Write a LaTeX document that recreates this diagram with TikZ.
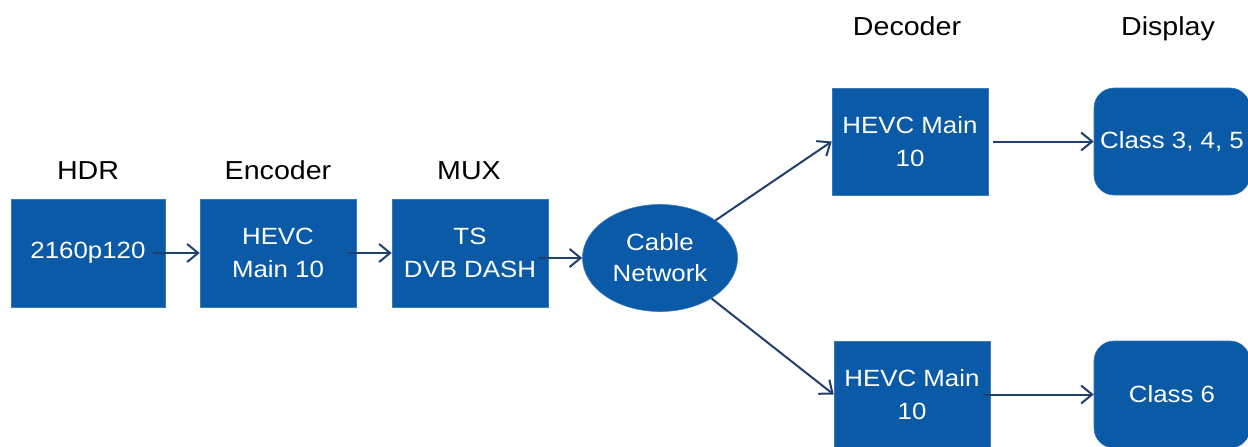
\documentclass[tikz,border=0pt]{standalone}
\usepackage{fontspec}
\setmainfont{Liberation Sans}[FakeStretch=1.1]
\usetikzlibrary{shapes.geometric,arrows.meta}
\definecolor{boxblue}{HTML}{0B5AA7}
\definecolor{boxedge}{HTML}{3A78B8}
\definecolor{arrowcol}{HTML}{1F3F6E}
\tikzset{
  blk/.style={rectangle, fill=boxblue, draw=boxedge, line width=0.6pt, text=white, align=center,
    inner sep=0pt, font=\fontsize{23.5}{33}\selectfont},
  rblk/.style={blk, rounded corners=20pt},
  cloud/.style={ellipse, fill=boxblue, draw=boxedge, line width=0.6pt, text=white, align=center,
    inner sep=0pt, minimum width=155pt, minimum height=107pt, font=\fontsize{23.5}{31}\selectfont},
  lbl/.style={anchor=base, text=black, inner sep=0pt, font=\fontsize{26}{30}\selectfont},
  conn/.style={draw=arrowcol, line width=2pt, -{Straight Barb[length=11pt,width=18pt]}}
}
\begin{document}
\begin{tikzpicture}[x=1pt,y=-1pt]
\useasboundingbox (0,0) rectangle (1248,447);
% boxes
\node[blk, minimum width=154pt, minimum height=108pt] (hdr) at (88,253) {2160p120};
\node[blk, minimum width=156pt, minimum height=108pt] (enc) at (278,253) {HEVC\\Main 10};
\node[blk, minimum width=156pt, minimum height=108pt] (mux) at (470,253) {TS\\DVB DASH};
\node[cloud] (cable) at (660,258) {Cable\\Network};
\node[blk, minimum width=156pt, minimum height=107pt] (dec1) at (910,141.5) {HEVC Main\\10};
\node[blk, minimum width=156pt, minimum height=107pt] (dec2) at (912,394.5) {HEVC Main\\10};
\node[rblk, minimum width=156pt, minimum height=107pt] (disp1) at (1172,141.5) {Class 3, 4, 5};
\node[rblk, minimum width=156pt, minimum height=107pt] (disp2) at (1172,394.5) {Class 6};
% labels
\node[lbl] (lhdr) at (88,179) {HDR};
\node[lbl] (lenc) at (278,179) {Encoder};
\node[lbl] (lmux) at (469,179) {MUX};
\node[lbl] (ldec) at (907,35) {Decoder};
\node[lbl] (ldisp) at (1168,35) {Display};
% connectors
\draw[conn, shorten <=-12pt] (hdr.east) -- (enc.west);
\draw[conn, shorten <=-8pt] (enc.east) -- (mux.west);
\draw[conn, shorten <=-10pt] (mux.east |- cable.west) -- (cable.west);
\draw[conn] (cable) -- (dec1.west);
\draw[conn] (cable) -- (dec2.west);
\draw[conn, shorten <=5pt] (dec1.east) -- (disp1.west);
\draw[conn, shorten <=-7pt] (dec2.east) -- (disp2.west);
\end{tikzpicture}
\end{document}
